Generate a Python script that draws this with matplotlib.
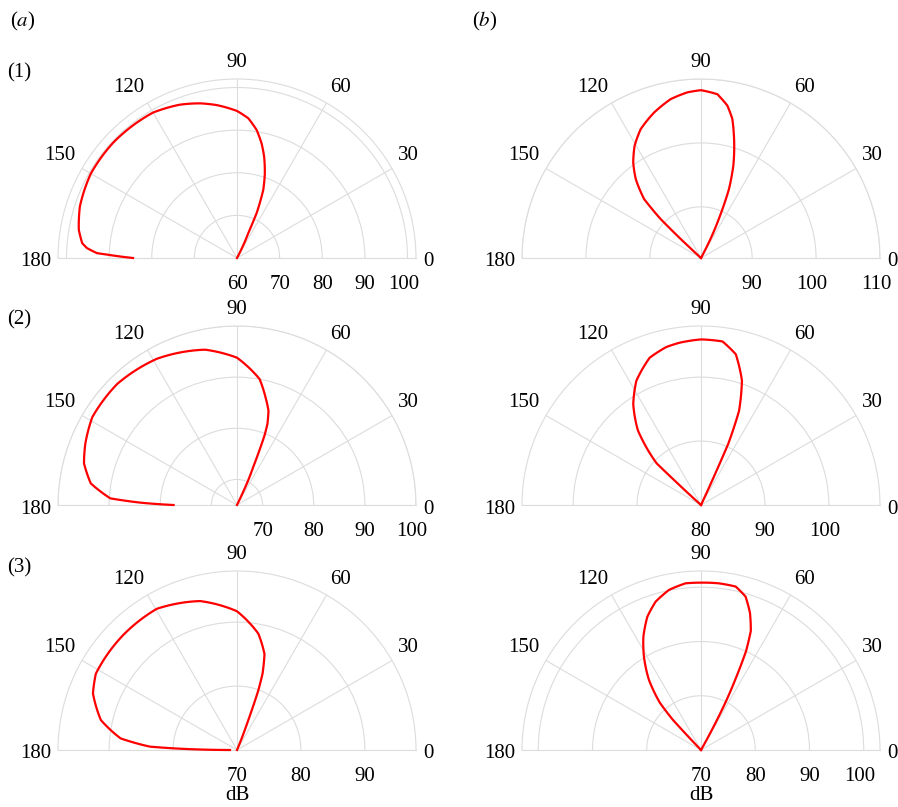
import numpy as np
import matplotlib
matplotlib.use("Agg")
import matplotlib.pyplot as plt

plt.rcParams["font.family"] = ["Liberation Serif", "DejaVu Serif"]
plt.rcParams["mathtext.fontset"] = "stix"

W, H = 898, 807
R = 179            # promien polowki kola w px
GRID = "#dcdcdc"
RED = "#ff0000"
FS = 15

THETA_TICKS = [0, 30, 60, 90, 120, 150, 180]

# ---- (a)(1)
a1_theta = [0, 62, 65.6, 66.4, 68.9, 71.8, 75, 77.9, 81.3, 85.4, 90, 97.6, 103.4,
            110.5, 120, 137, 150, 161.8, 169.9, 174.5, 176.2, 178, 178.5, 180]
a1_db = [60, 60, 66.4, 71.5, 77.1, 80.9, 84.6, 87.5, 90.4, 92.9, 94.5, 96.2, 97.3,
         98.4, 99.4, 99.7, 99.6, 98.8, 97.7, 96.5, 95.3, 92.9, 90.5, 84.4]
a1_rlim = (60, 102)
a1_rticks = [60, 70, 80, 90, 100]

# ---- (a)(2)
a2_theta = [0, 64, 65.6, 66.9, 68.4, 69.4, 71.5, 75.2, 79.8, 90, 101.6, 118.7, 134.7,
            148.7, 157.9, 164.8, 171.6, 177, 178.6, 180]
a2_db = [65, 65, 70.3, 73.1, 79.6, 81.9, 84.4, 86.8, 90.0, 93.8, 96.0, 97.6, 98.3,
         98.1, 97.0, 96.0, 93.9, 89.8, 83.9, 77.4]
a2_rlim = (65, 100)
a2_rticks = [70, 80, 90, 100]

# ---- (a)(3)
a3_theta = [0, 67, 68.5, 69.3, 70.3, 71.5, 74, 79.6, 90, 103.9, 119.6, 135, 151.6,
            158.6, 167.6, 174.3, 177.8, 178.9, 180]
a3_db = [70, 70, 72.8, 75.0, 79.8, 82.6, 85.6, 88.5, 91.7, 94.0, 95.4, 95.3, 95.1,
         94.2, 91.8, 88.3, 83.6, 77.8, 71.1]
a3_rlim = (70, 98)
a3_rticks = [70, 80, 90]

# ---- (b)(1)
b1_theta = [0, 62, 63.5, 65.8, 67.9, 70.7, 73.5, 77.3, 80.2, 84.3, 90, 94.7, 100.8,
            107.9, 115.1, 120.6, 125.4, 129.6, 134.0, 136.0, 136.9, 137.5, 180]
b1_db = [82, 82, 85.3, 89.3, 93.6, 97.3, 100.3, 104.3, 106.2, 107.75, 108.25, 108.0,
         107.3, 105.9, 104.25, 102.4, 100.3, 98.0, 94.8, 90.8, 86.3, 82, 82]
b1_rlim = (82, 110)
b1_rticks = [90, 100, 110]

# ---- (b)(2)
b2_theta = [0, 65, 65.5, 66, 68, 71.8, 77, 82.5, 90, 97.6, 102.4, 109.2, 117.5,
            123.9, 130.2, 136.8, 137.3, 138, 180]
b2_db = [80, 80, 84.8, 90.5, 95.9, 100.5, 104.2, 105.8, 105.9, 105.6, 105.3, 104.4,
         101.9, 99.0, 95.3, 89.5, 84.6, 80, 80]
b2_rlim = (80, 108)
b2_rticks = [80, 90, 100]

# ---- (b)(3)
b3_theta = [0, 60.5, 61.5, 62.8, 64.2, 65.5, 67.3, 70.3, 73.8, 78.0, 83.8, 90, 95.3,
            101.3, 107.0, 111.9, 117.0, 121.4, 126.6, 131.0, 133.0, 133.5, 134, 180]
b3_db = [70, 70, 74.0, 80.0, 85.0, 90.0, 93.8, 96.8, 99.45, 100.8, 100.9, 100.85, 100.86,
         100.1, 98.6, 96.5, 93.4, 90.2, 86.1, 81.6, 77.6, 73.3, 70, 70]
b3_rlim = (70, 103)
b3_rticks = [70, 80, 90, 100]

# srodki polkoli (px, od gory)
COL_X = [237, 701]
ROW_Y = [258, 505, 750]


def half_polar(fig, cx, cy, theta, db, rlim, rticks):
    # polowka kola zajmuje srodkowa polowe kwadratowej osi
    ax = fig.add_axes([(cx - R) / W, (H - (cy + 0.5 * R)) / H, 2 * R / W, 2 * R / H],
                      projection="polar")
    ax.set_thetamin(0)
    ax.set_thetamax(180)
    rmin, rmax = rlim
    ax.set_rlim(rmin, rmax)
    ax.set_rticks(rticks)
    ax.set_yticklabels([])
    ax.set_xticks(np.radians(THETA_TICKS))
    ax.set_xticklabels([])
    ax.tick_params(length=0)
    ax.grid(True, color=GRID, linewidth=0.8)
    for sp in ax.spines.values():
        sp.set_edgecolor(GRID)
        sp.set_linewidth(0.8)

    r = np.maximum(np.array(db, dtype=float), rmin)
    line, = ax.plot(np.radians(theta), r, color=RED, linewidth=1.6, zorder=5,
                    clip_on=False, solid_joinstyle="round")
    # odcinki rysowane jako luki w ukladzie biegunowym (jak linie siatki)
    line.get_path()._interpolation_steps = 40

    # etykiety katow
    for a in THETA_TICKS:
        t = np.radians(a)
        if a == 0:
            ha, va, off = "left", "center", (7, -4)
        elif a == 180:
            ha, va, off = "right", "center", (-7, -4)
        else:
            ha = "center" if a == 90 else ("left" if a < 90 else "right")
            va = "bottom"
            off = (7 * np.cos(t), 7 * np.sin(t))
        ax.annotate(str(a), xy=(t, rmax), xytext=off, textcoords="offset pixels",
                    ha=ha, va=va, fontsize=FS, annotation_clip=False)

    # etykiety promienia pod osia
    for v in rticks:
        dx = -4 if v >= 100 else 0
        ax.annotate(str(v), xy=(0, v), xytext=(dx, -17), textcoords="offset pixels",
                    ha="center", va="top", fontsize=FS, annotation_clip=False)
    return ax


fig = plt.figure(figsize=(W / 100, H / 100), dpi=100)

panels = [
    (0, 0, a1_theta, a1_db, a1_rlim, a1_rticks),
    (0, 1, a2_theta, a2_db, a2_rlim, a2_rticks),
    (0, 2, a3_theta, a3_db, a3_rlim, a3_rticks),
    (1, 0, b1_theta, b1_db, b1_rlim, b1_rticks),
    (1, 1, b2_theta, b2_db, b2_rlim, b2_rticks),
    (1, 2, b3_theta, b3_db, b3_rlim, b3_rticks),
]
for c, rw, th, db, rl, rt in panels:
    half_polar(fig, COL_X[c], ROW_Y[rw], th, db, rl, rt)

# podpisy paneli
fig.text(10 / W, 1 - 21 / H, "($a$)", ha="left", va="center", fontsize=FS)
fig.text(472 / W, 1 - 21 / H, "($b$)", ha="left", va="center", fontsize=FS)
for lbl, y in [("(1)", 73), ("(2)", 320), ("(3)", 568)]:
    fig.text(7 / W, 1 - y / H, lbl, ha="left", va="center", fontsize=FS)

for x in COL_X:
    fig.text(x / W, 1 - 786 / H, "dB", ha="center", va="top", fontsize=FS)

fig.savefig("out.png", dpi=100)
plt.close(fig)
